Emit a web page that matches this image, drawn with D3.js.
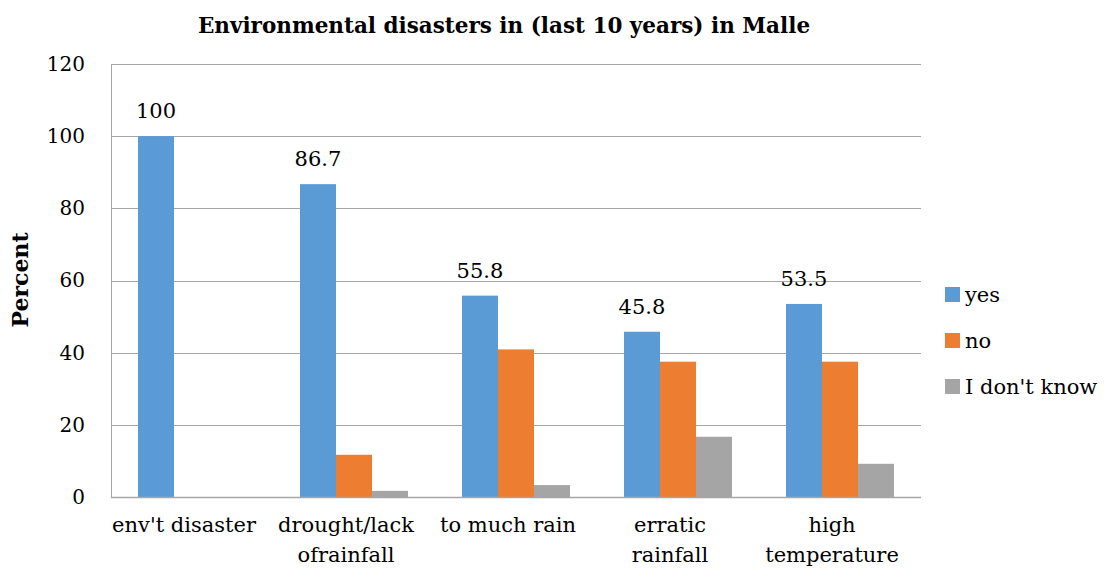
<!DOCTYPE html>
<html>
<head>
<meta charset="utf-8">
<script src="https://cdn.jsdelivr.net/npm/d3@7"></script>
<style>
html,body{margin:0;padding:0;background:#fff;}
svg{display:block;}
text{font-family:"DejaVu Serif","Liberation Serif",serif;fill:#000;}
</style>
</head>
<body>
<svg id="chart" width="1112" height="577"></svg>
<script>
const categories = [["env't disaster"], ["drought/lack", "ofrainfall"], ["to much rain"], ["erratic", "rainfall"], ["high", "temperature"]];
const seriesNames = ["yes", "no", "I don't know"];
const yesValues = [100, 86.7, 55.8, 45.8, 53.5];
const noValues = [0, 11.7, 40.9, 37.5, 37.5];
const dontKnowValues = [0, 1.7, 3.3, 16.7, 9.2];
const yTicks = [0, 20, 40, 60, 80, 100, 120];
const colors = ["#5b9bd5", "#ed7d31", "#a5a5a5"];
const titleText = "Environmental disasters in (last 10 years) in Malle";
const yLabel = "Percent";

const series = [yesValues, noValues, dontKnowValues];
const svg = d3.select("#chart");
const L = 111, R = 921, T = 64, B = 497;

const x0 = d3.scaleBand().domain(d3.range(categories.length)).range([L, R]).paddingInner(0).paddingOuter(0);
const x1 = d3.scaleBand().domain(d3.range(series.length)).range([0, x0.bandwidth()]).paddingOuter(0.75).paddingInner(0);
const y = d3.scaleLinear().domain([0, 120]).range([B, T]);

// gridlines
svg.append("g").selectAll("line").data(yTicks.filter(d => d > 0)).join("line")
  .attr("x1", L).attr("x2", R).attr("y1", d => Math.round(y(d)) + 0.5).attr("y2", d => Math.round(y(d)) + 0.5)
  .attr("stroke", "#a6a6a6").attr("stroke-width", 1);

// bars
series.forEach((vals, si) => {
  svg.append("g").selectAll("rect").data(vals).join("rect")
    .attr("x", (d, i) => x0(i) + x1(si))
    .attr("width", x1.bandwidth())
    .attr("y", d => y(d))
    .attr("height", d => y(0) - y(d))
    .attr("fill", colors[si]);
});

// axes lines
svg.append("line").attr("x1", L + 0.5).attr("x2", L + 0.5).attr("y1", T).attr("y2", B)
  .attr("stroke", "#a6a6a6").attr("stroke-width", 1);
svg.append("line").attr("x1", L).attr("x2", R).attr("y1", Math.round(y(0)) + 0.5).attr("y2", Math.round(y(0)) + 0.5)
  .attr("stroke", "#a6a6a6").attr("stroke-width", 1.5);

// y axis tick labels
const yAxis = d3.axisLeft(y).tickValues(yTicks).tickSize(0).tickPadding(26);
const ya = svg.append("g").attr("transform", `translate(${L},0)`).call(yAxis);
ya.select(".domain").remove();
ya.selectAll("text").style("font-family", '"DejaVu Serif", serif').style("font-size", "20px").attr("fill", "#000");

// data labels for yes series
svg.append("g").selectAll("text").data(yesValues).join("text")
  .attr("x", (d, i) => x0(i) + x1(0) + x1.bandwidth() / 2)
  .attr("y", d => y(d) - 18)
  .attr("text-anchor", "middle")
  .style("font-size", "21px")
  .text(d => d);

// category labels
const cl = svg.append("g").selectAll("text").data(categories).join("text")
  .attr("text-anchor", "middle")
  .style("font-size", "21px")
  .attr("transform", (d, i) => `translate(${x0(i) + x0.bandwidth() / 2 - 8},532)`);
cl.selectAll("tspan").data(d => d).join("tspan")
  .attr("x", 0).attr("y", (d, j) => j * 30).text(d => d);

// title
svg.append("text").attr("x", 504).attr("y", 33).attr("text-anchor", "middle")
  .style("font-size", "21.5px").style("font-weight", "bold").text(titleText);

// y label
svg.append("text").attr("transform", "translate(28,280) rotate(-90)").attr("text-anchor", "middle")
  .style("font-size", "22px").style("font-weight", "bold").text(yLabel);

// legend
const lg = svg.append("g").selectAll("g").data(seriesNames).join("g")
  .attr("transform", (d, i) => `translate(945,${287 + i * 46})`);
lg.append("rect").attr("width", 15).attr("height", 15).attr("fill", (d, i) => colors[i]);
lg.append("text").attr("x", 20).attr("y", 15).style("font-size", "21px").text(d => d);
</script>
</body>
</html>
